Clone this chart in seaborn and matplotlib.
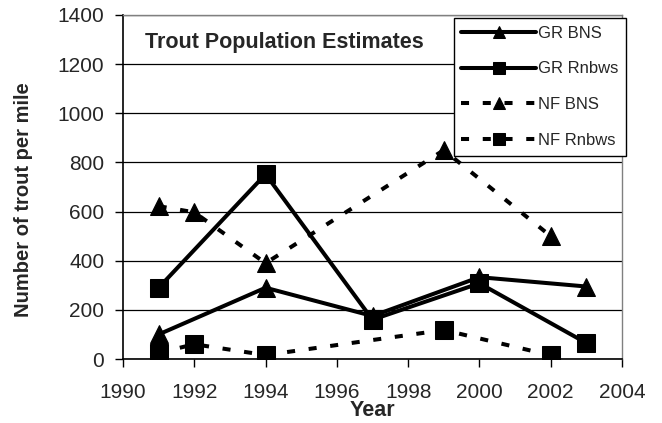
import matplotlib
matplotlib.use("Agg")
import matplotlib.pyplot as plt
import seaborn as sns
import pandas as pd

# Data
gr_years = [1991, 1994, 1997, 2000, 2003]
gr_bns = [100, 290, 175, 333, 295]
gr_rnbws = [290, 752, 160, 308, 65]
nf_years = [1991, 1992, 1994, 1999, 2002]
nf_bns = [622, 597, 390, 850, 500]
nf_rnbws = [25, 60, 16, 118, 15]

series = [
    ("GR BNS", gr_years, gr_bns, "^", "-"),
    ("GR Rnbws", gr_years, gr_rnbws, "s", "-"),
    ("NF BNS", nf_years, nf_bns, "^", (0, (2, 3.4))),
    ("NF Rnbws", nf_years, nf_rnbws, "s", (0, (2, 3.4))),
]

sns.set_theme(style="white")
plt.rcParams["font.family"] = ["Liberation Sans", "DejaVu Sans"]

fig = plt.figure(figsize=(6.62, 4.23), dpi=100)
ax = fig.add_axes([123 / 662, 1 - 359 / 423, (622 - 123) / 662, (359 - 15) / 423])

for name, xs, ys, mk, ls in series:
    df = pd.DataFrame({"Year": xs, "Value": ys})
    ms = 13 if mk == "^" else 12.5
    sns.lineplot(data=df, x="Year", y="Value", ax=ax, color="black",
                 marker=mk, markersize=ms, markeredgecolor="black",
                 linewidth=2.9, linestyle=ls, label=name, zorder=3)

ax.set_xlim(1990, 2004)
ax.set_ylim(0, 1400)
ax.set_xticks(range(1990, 2005, 2))
ax.set_yticks(range(0, 1401, 200))
ax.tick_params(axis="both", labelsize=15, length=5.5, width=1, color="black",
               direction="out", bottom=True, left=True)
ax.tick_params(axis="x", pad=12)
ax.tick_params(axis="y", pad=8)
ax.yaxis.grid(True, color="black", linewidth=0.9)
ax.set_axisbelow(True)
for side in ["left", "bottom"]:
    ax.spines[side].set_color("black")
    ax.spines[side].set_linewidth(1.2)
for side in ["top", "right"]:
    ax.spines[side].set_color("#808080")
    ax.spines[side].set_linewidth(1.0)

ax.set_xlabel("Year", fontsize=15.5, fontweight="bold", labelpad=-1.5)
ax.set_ylabel("Number of trout per mile", fontsize=14.5, fontweight="bold")
ax.yaxis.set_label_coords(-0.18, 0.462)

ax.text(0.044, 0.92, "Trout Population Estimates", transform=ax.transAxes,
        fontsize=15.5, fontweight="bold", va="center", ha="left")

leg = ax.legend(loc="upper left", bbox_to_anchor=(0.663, 0.991), fontsize=12,
                handlelength=4.5, handletextpad=0.1, labelspacing=1.25,
                borderpad=0.45, borderaxespad=0, frameon=True, fancybox=False,
                framealpha=1, edgecolor="black")
leg.get_frame().set_linewidth(1.0)
leg.set_zorder(5)
for h in leg.legend_handles:
    h.set_markersize(8)

fig.savefig("out.png", dpi=100)
